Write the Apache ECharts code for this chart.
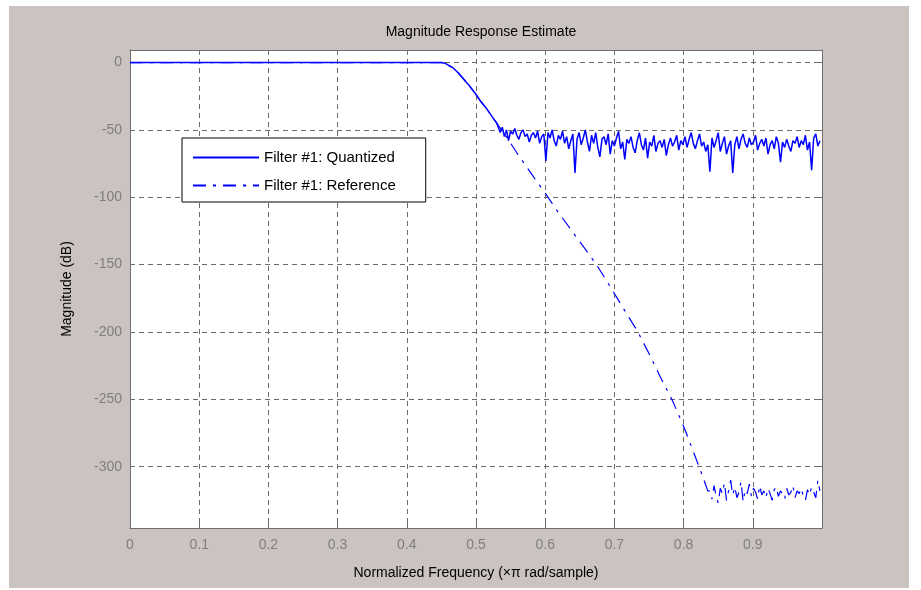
<!DOCTYPE html>
<html>
<head>
<meta charset="utf-8">
<script src="https://cdn.jsdelivr.net/npm/echarts@6/dist/echarts.min.js"></script>
<style>html,body{margin:0;padding:0;background:#fff;}#c{width:921px;height:590px;}</style>
</head>
<body>
<div id="c"></div>
<script>
// ---- data ----
const xTickLabels = ['0','0.1','0.2','0.3','0.4','0.5','0.6','0.7','0.8','0.9'];
const yTickLabels = ['0','-50','-100','-150','-200','-250','-300'];

// pass band + transition (shared by both filters)
const passFreq = [0, 0.45, 0.455, 0.46, 0.467, 0.475, 0.481, 0.49, 0.499, 0.507, 0.515, 0.523, 0.53];
const passMag  = [0, 0, -0.5, -2, -4, -8, -11.6, -17, -23, -29, -34, -40, -45];

// quantized stopband (noisy), sampled every 0.003 from 0.532
const quantStopStart = 0.532, quantStopStep = 0.003;
const quantStopMag = [
 -46,-52,-48,-55,-50,-58,-51,-53,-49,-54,-57,-52,-50,-55,-53,-59,-54,-52,-56,-51,-60,-55,-53,
 -73,-52,-56,-50,-58,-62,-54,-57,-51,-60,-55,-64,-58,-53,-82,-57,-52,-61,-56,-50,
 -59,-66,-54,-60,-52,-63,-70,-57,-55,-61,-53,-68,-58,-62,-56,-51,-64,-59,-72,-57,
 -60,-55,-63,-67,-58,-52,-61,-65,-56,-71,-59,-62,-54,-66,-60,-58,-63,-57,-69,-61,
 -56,-62,-59,-54,-65,-58,-61,-55,-63,-57,-52,-60,-64,-58,-53,-62,-59,-66,-61,-81,
 -56,-63,-58,-52,-66,-60,-55,-68,-62,-58,-82,-61,-55,-64,-57,-53,-60,-63,-56,-61,
 -59,-54,-65,-60,-57,-62,-56,-68,-61,-58,-64,-55,-60,-74,-59,-63,-57,-62,-66,-58,
 -60,-55,-63,-58,-61,-54,-65,-59,-80,-56,-53,-62,-58
];

// reference roll-off
const refSlopeFreq = [0.545,0.559,0.582,0.6,0.62,0.64,0.66,0.674,0.69,0.71,0.734,0.75,0.766,0.783,0.8,0.815,0.826,0.835];
const refSlopeMag  = [-56,-67,-84,-97,-112,-126,-140,-150,-163,-180,-200,-216,-233,-250,-270,-290,-305,-318];

// reference floor (noisy), sampled every 0.003 from 0.838
const refFloorStart = 0.838, refFloorStep = 0.003;
const refFloorMag = [
 -318,-324,-314,-322,-327,-316,-320,-312,-325,-318,-310,-321,-315,-323,-319,-311,-326,-317,
 -320,-313,-322,-316,-319,-324,-314,-321,-318,-323,-316,-320,-325,-317,-315,-322,-318,-320,
 -324,-316,-321,-319,-314,-323,-318,-320,-316,-322,-325,-317,-321,-315,-319,-323,-310,-318
];

// ---- build series data ----
const pass = passFreq.map((f,i)=>[f, passMag[i]]);
const quantData = pass.concat(quantStopMag.map((m,i)=>[+(quantStopStart+i*quantStopStep).toFixed(4), m]));
const refData = pass.concat(refSlopeFreq.map((f,i)=>[f, refSlopeMag[i]]))
  .concat(refFloorMag.map((m,i)=>[+(refFloorStart+i*refFloorStep).toFixed(4), m]));

const FONT = 'Liberation Sans';
const gridCol = '#6a6a6a';
const axisCol = '#6e6e6e';
const labelCol = '#7f7f7f';

const chart = echarts.init(document.getElementById('c'), null, {renderer:'canvas'});
chart.setOption({
  backgroundColor: '#ffffff',
  animation: false,
  graphic: [{
    type: 'rect', z: -10, silent: true,
    shape: {x: 9, y: 6, width: 900, height: 582},
    style: {fill: '#cac3bf'}
  }],
  title: {
    text: 'Magnitude Response Estimate',
    left: 476, top: 20, textAlign: 'center',
    textStyle: {fontFamily: FONT, fontSize: 14, fontWeight: 'normal', color: '#000'}
  },
  grid: {left: 130, right: 99, top: 50, bottom: 62, show: true, backgroundColor: '#ffffff', borderWidth: 0},
  legend: {
    left: 182, top: 138, orient: 'vertical',
    backgroundColor: '#ffffff', borderColor: '#000', borderWidth: 1, borderRadius: 0,
    padding: [12, 30, 9, 10], itemGap: 13, itemWidth: 66, itemHeight: 14,
    itemStyle: {opacity: 0},
    textStyle: {fontFamily: FONT, fontSize: 15, color: '#000'},
    data: ['Filter #1: Quantized', 'Filter #1: Reference']
  },
  xAxis: [{
    type: 'value', min: 0, max: 1, interval: 0.1,
    name: 'Normalized Frequency (\u00d7\u03c0 rad/sample)', nameLocation: 'middle', nameGap: 38,
    nameTextStyle: {fontFamily: FONT, fontSize: 14, color: '#000'},
    axisLine: {show: true, onZero: false, lineStyle: {color: axisCol, width: 1}},
    axisTick: {show: true, inside: true, length: 5, lineStyle: {color: axisCol}},
    axisLabel: {
      fontFamily: FONT, fontSize: 14, color: labelCol, margin: 10, showMaxLabel: false,
      formatter: v => { const i = Math.round(v*10); return i < xTickLabels.length ? xTickLabels[i] : ''; }
    },
    splitLine: {show: true, lineStyle: {color: gridCol, type: [5,4], width: 1}}
  },{
    type: 'value', min: 0, max: 1, interval: 0.1, position: 'top',
    axisLine: {show: true, onZero: false, lineStyle: {color: axisCol, width: 1}},
    axisTick: {show: true, inside: true, length: 5, lineStyle: {color: axisCol}},
    axisLabel: {show: false}, splitLine: {show: false}
  }],
  yAxis: [{
    type: 'value', min: -345.5, max: 9.3, splitNumber: 7,
    name: 'Magnitude (dB)', nameLocation: 'middle', nameGap: 56, nameRotate: 90,
    nameTextStyle: {fontFamily: FONT, fontSize: 14, color: '#000'},
    axisLine: {show: true, onZero: false, lineStyle: {color: axisCol, width: 1}},
    axisTick: {show: true, inside: true, length: 5, lineStyle: {color: axisCol}},
    axisLabel: {
      fontFamily: FONT, fontSize: 14, color: labelCol, margin: 8, showMinLabel: false, showMaxLabel: false,
      formatter: v => { const i = Math.round(-v/50); return (Math.abs(v + i*50) < 1e-6 && i >= 0 && i < yTickLabels.length) ? yTickLabels[i] : ''; }
    },
    splitLine: {show: true, lineStyle: {color: gridCol, type: [5,4], width: 1}}
  },{
    type: 'value', min: -345.5, max: 9.3, splitNumber: 7, position: 'right',
    axisLine: {show: true, onZero: false, lineStyle: {color: axisCol, width: 1}},
    axisTick: {show: true, inside: true, length: 5, lineStyle: {color: axisCol}},
    axisLabel: {show: false}, splitLine: {show: false}
  }],
  series: [{
    name: 'Filter #1: Quantized', type: 'line', data: quantData,
    showSymbol: false, symbol: 'none', clip: true,
    itemStyle: {color: '#0000ff'},
    lineStyle: {color: '#0000ff', width: 1.5}
  },{
    name: 'Filter #1: Reference', type: 'line', data: refData,
    showSymbol: false, symbol: 'none', clip: true,
    itemStyle: {color: '#0000ff'},
    lineStyle: {color: '#0000ff', width: 1.2, type: [13,7,3,7]}
  }]
});
</script>
</body>
</html>
